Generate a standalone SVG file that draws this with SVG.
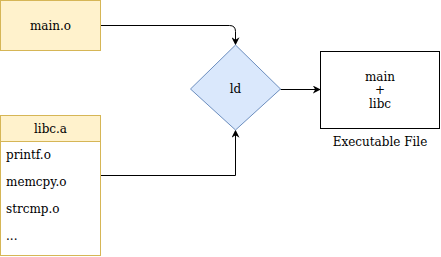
<svg xmlns="http://www.w3.org/2000/svg" width="441" height="257" viewBox="0 0 441 257">
<style>
text{font-family:"DejaVu Serif",serif;font-size:12px;fill:#000}
.y{fill:#fff2cc;stroke:#d6b656}
.c{fill:none;stroke:#000;stroke-width:1}
</style>
<defs>
<marker id="a" viewBox="0 0 10 10" refX="9" refY="5" markerWidth="8" markerHeight="8" orient="auto" markerUnits="userSpaceOnUse">
<path d="M0,0L10,5L0,10L3,5Z" fill="#000"/>
</marker>
</defs>
<rect width="441" height="257" fill="#fff"/>
<g id="connectors">
<path class="c" d="M100.5,25.5H229.5Q235.5,25.5 235.5,31.5V44.5" marker-end="url(#a)"/>
<path class="c" d="M100.5,175.5H235.5V130.5" marker-end="url(#a)"/>
<path class="c" d="M280.5,89.5H320" marker-end="url(#a)"/>
</g>
<g id="main">
<rect class="y" x="0.5" y="0.5" width="100" height="50"/>
<text x="50.5" y="30" text-anchor="middle">main.o</text>
</g>
<g id="libc">
<rect x="0.5" y="115.5" width="100" height="140" fill="#fff" stroke="#d6b656"/>
<rect class="y" x="0.5" y="115.5" width="100" height="26"/>
<text x="50.5" y="133" text-anchor="middle">libc.a</text>
<text x="6" y="159">printf.o</text>
<text x="6" y="186">memcpy.o</text>
<text x="6" y="213">strcmp.o</text>
<text x="6" y="240">...</text>
</g>
<g id="ld">
<polygon points="235.5,45 280.5,89 235.5,130 190.5,89" fill="#dae8fc" stroke="#6c8ebf"/>
<text x="235.5" y="93" text-anchor="middle">ld</text>
</g>
<g id="exe">
<rect x="320.5" y="51.5" width="119" height="77" fill="#fff" stroke="#000"/>
<text x="380" y="81" text-anchor="middle">main</text>
<text x="380" y="94" text-anchor="middle">+</text>
<text x="380" y="108" text-anchor="middle">libc</text>
<text x="380" y="146" text-anchor="middle">Executable File</text>
</g>
</svg>
